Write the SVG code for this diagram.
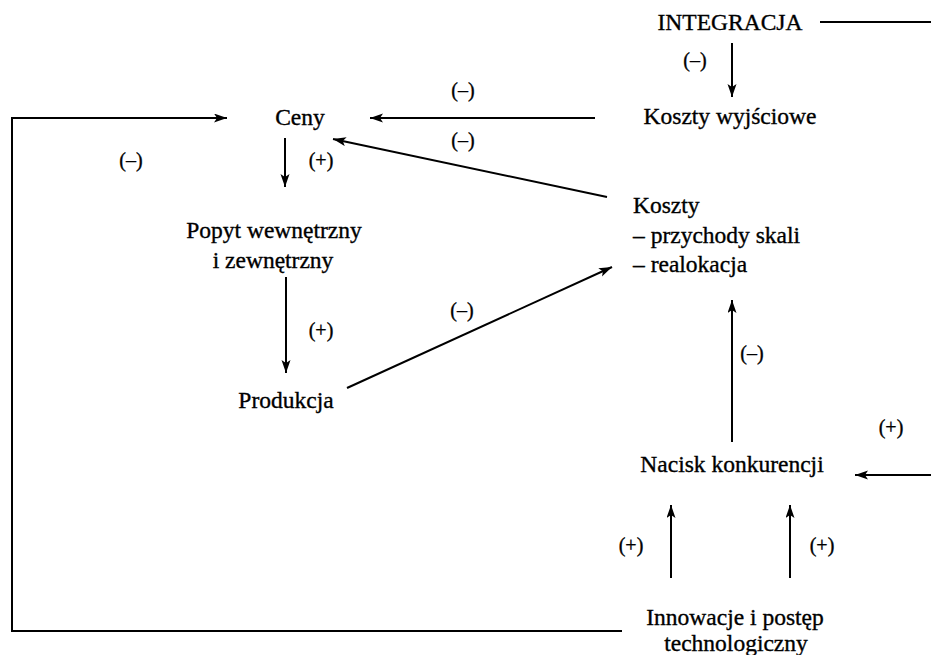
<svg xmlns="http://www.w3.org/2000/svg" width="931" height="655" viewBox="0 0 931 655">
<defs>
<marker id="ah" markerUnits="userSpaceOnUse" markerWidth="14" markerHeight="10" refX="13" refY="4.5" orient="auto">
<path d="M0,0 L13,4.5 L0,9 L3,4.5 z" fill="#000"/>
</marker>
<style>
text{font-family:"Liberation Serif","Times New Roman",serif;fill:#000;stroke:#000;stroke-width:0.35}
.n{font-size:23.5px}
.l{font-size:20px;text-anchor:middle}
.c{text-anchor:middle}
.e{fill:none;stroke:#000;stroke-width:2}
.a{marker-end:url(#ah)}
</style>
</defs>
<rect width="931" height="655" fill="#fff"/>
<g id="integracja"><text class="n c" x="730" y="30">INTEGRACJA</text></g>
<g id="koszty-wyjsciowe"><text class="n c" x="730" y="124">Koszty wyjściowe</text></g>
<g id="ceny"><text class="n c" x="300" y="125">Ceny</text></g>
<g id="popyt"><text class="n c" x="274" y="238">Popyt wewnętrzny</text><text class="n c" x="273" y="268">i zewnętrzny</text></g>
<g id="produkcja"><text class="n c" x="286" y="408">Produkcja</text></g>
<g id="koszty"><text class="n" x="633" y="213">Koszty</text><text class="n" x="633" y="243">– przychody skali</text><text class="n" x="633" y="272">– realokacja</text></g>
<g id="nacisk"><text class="n c" x="732" y="472">Nacisk konkurencji</text></g>
<g id="innowacje"><text class="n c" x="735" y="625">Innowacje i postęp</text><text class="n c" x="736" y="651">technologiczny</text></g>
<g id="connectors">
<path class="e a" d="M622,631 H12 V118 H227"/>
<path class="e a" d="M595,118 H370"/>
<path class="e" d="M820,22 H931"/>
<path class="e a" d="M732,43 V97"/>
<path class="e a" d="M607,197 L333,139"/>
<path class="e a" d="M285,138 V187"/>
<path class="e a" d="M286,277 V373"/>
<path class="e a" d="M347,388 L612,267"/>
<path class="e a" d="M732,442 V300"/>
<path class="e a" d="M931,475 H855"/>
<path class="e a" d="M671,578 V505"/>
<path class="e a" d="M790,578 V505"/>
<text class="l" x="695" y="67">(–)</text>
<text class="l" x="463" y="97">(–)</text>
<text class="l" x="463" y="147">(–)</text>
<text class="l" x="131" y="167">(–)</text>
<text class="l" x="321" y="167">(+)</text>
<text class="l" x="321" y="337">(+)</text>
<text class="l" x="462" y="317">(–)</text>
<text class="l" x="752" y="360">(–)</text>
<text class="l" x="891" y="434">(+)</text>
<text class="l" x="631" y="552">(+)</text>
<text class="l" x="822" y="552">(+)</text>
</g>
</svg>
